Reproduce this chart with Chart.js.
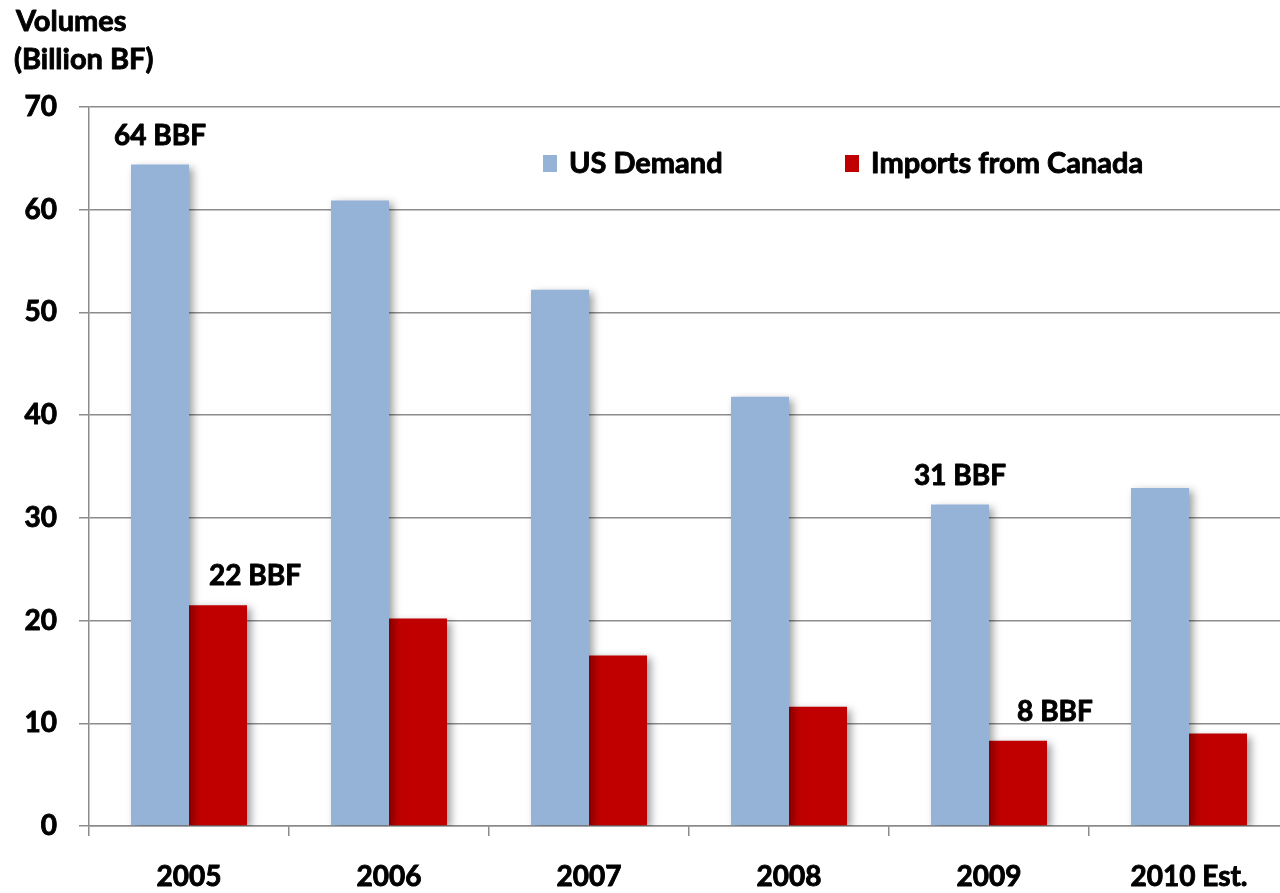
<!DOCTYPE html>
<html>
<head>
<meta charset="utf-8">
<script src="https://cdn.jsdelivr.net/npm/chart.js@4.4.1/dist/chart.umd.min.js"></script>
<style>
  html, body { margin: 0; padding: 0; background: #fff; overflow: hidden; }
  #wrap { width: 1300px; height: 893px; }
</style>
</head>
<body>
<div id="wrap"><canvas id="c" width="1300" height="893"></canvas></div>
<script>
// ---- data ----
const categories = ['2005', '2006', '2007', '2008', '2009', '2010 Est.'];
const usDemand = [64.4, 60.9, 52.2, 41.8, 31.3, 32.9];
const importsCanada = [21.5, 20.2, 16.6, 11.6, 8.3, 9.0];
const seriesNames = ['US Demand', 'Imports from Canada'];
const yTicks = [0, 10, 20, 30, 40, 50, 60, 70];
const titleLines = ['Volumes', '(Billion BF)'];
const unitSuffix = ' BBF';
// which bars get a value callout: [seriesIndex, categoryIndex]
const callouts = [[0, 0], [1, 0], [0, 4], [1, 4]];

// ---- styles ----
const FONT = 'Lato';
const WEIGHT = 'bold';
const STROKE = 0.9;
const colors = ['#95B3D7', '#C00000'];
const gridColor = '#8c8c8c';

const shadowPlugin = {
  id: 'barShadow',
  beforeDatasetsDraw(chart) {
    const ctx = chart.ctx;
    ctx.save();
    ctx.shadowColor = 'rgba(0,0,0,0.38)';
    ctx.shadowBlur = 8;
    ctx.shadowOffsetX = 4;
    ctx.shadowOffsetY = 3;
  },
  afterDatasetsDraw(chart) {
    chart.ctx.restore();
  }
};

function boldText(ctx, txt, x, y) {
  ctx.fillText(txt, x, y);
  ctx.strokeText(txt, x, y);
}

const decorPlugin = {
  id: 'decor',
  afterDraw(chart) {
    const ctx = chart.ctx;
    ctx.save();
    ctx.fillStyle = '#000';
    ctx.strokeStyle = '#000';
    ctx.lineWidth = STROKE;
    ctx.lineJoin = 'round';
    ctx.textAlign = 'left';
    ctx.textBaseline = 'alphabetic';
    // title
    ctx.font = WEIGHT + ' 29px ' + FONT;
    boldText(ctx, titleLines[0], 16, 31);
    boldText(ctx, titleLines[1], 14, 69);

    // legend
    const legendX = [543, 845];
    const legendY = 163;
    chart.data.datasets.forEach((ds, i) => {
      ctx.fillStyle = ds.backgroundColor;
      ctx.fillRect(legendX[i], legendY - 8, 14, 17);
      ctx.fillStyle = '#000';
      boldText(ctx, ds.label, legendX[i] + 26, legendY + 10);
    });

    // callouts
    ctx.font = WEIGHT + ' 28px ' + FONT;
    ctx.textAlign = 'center';
    callouts.forEach(([s, c]) => {
      const el = chart.getDatasetMeta(s).data[c];
      const v = chart.data.datasets[s].data[c];
      const shift = s === 1 ? 37 : 0;
      boldText(ctx, Math.round(v) + unitSuffix, el.x + shift, el.y - 20);
    });
    ctx.restore();
  }
};

new Chart(document.getElementById('c'), {
  type: 'bar',
  data: {
    labels: categories,
    datasets: [
      { label: seriesNames[0], data: usDemand, backgroundColor: colors[0] },
      { label: seriesNames[1], data: importsCanada, backgroundColor: colors[1] }
    ]
  },
  options: {
    responsive: false,
    animation: false,
    devicePixelRatio: 1,
    layout: { padding: { top: 107, right: 11, left: 0, bottom: 0 } },
    datasets: { bar: { categoryPercentage: 0.58, barPercentage: 1.0 } },
    plugins: {
      legend: { display: false },
      tooltip: { enabled: false },
      title: { display: false }
    },
    scales: {
      x: {
        offset: true,
        grid: {
          offset: true,
          drawOnChartArea: false,
          drawTicks: true,
          tickLength: 10,
          color: gridColor,
          lineWidth: 1.5
        },
        border: { display: true, color: gridColor, width: 1.5 },
        ticks: {
          color: '#000',
          textStrokeColor: '#000',
          textStrokeWidth: STROKE,
          padding: 24,
          maxRotation: 0,
          font: { family: FONT, size: 28, weight: WEIGHT }
        },
        afterFit(scale) { scale.height = 67; }
      },
      y: {
        min: 0,
        max: 70,
        afterBuildTicks(scale) { scale.ticks = yTicks.map(v => ({ value: v })); },
        grid: {
          drawTicks: true,
          tickLength: 10,
          color: gridColor,
          lineWidth: 1.5
        },
        border: { display: true, color: gridColor, width: 1.5 },
        ticks: {
          color: '#000',
          textStrokeColor: '#000',
          textStrokeWidth: STROKE,
          padding: 22,
          font: { family: FONT, size: 28, weight: WEIGHT }
        },
        afterFit(scale) { scale.width = 89; }
      }
    }
  },
  plugins: [shadowPlugin, decorPlugin]
});
</script>
</body>
</html>
